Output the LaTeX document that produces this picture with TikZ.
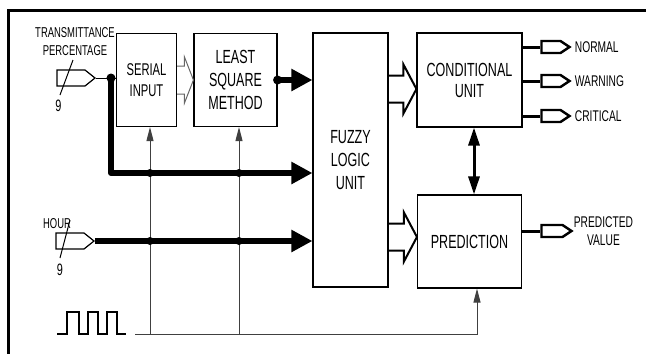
\documentclass[tikz,border=0pt]{standalone}
\usepackage{fontspec}
\newfontfamily\narrowsf{Liberation Sans}[FakeStretch=0.66]
\usetikzlibrary{arrows.meta,positioning,shapes.symbols,calc}
\newcommand{\boxfont}{\narrowsf\fontsize{19}{23}\selectfont}
\newcommand{\labelfont}{\narrowsf\fontsize{14.3}{18.5}\selectfont}
\newcommand{\outfont}{\narrowsf\fontsize{15.5}{18}\selectfont}
\tikzset{
  block/.style={draw, line width=1.1pt, inner sep=0pt, align=center, font=\boxfont},
  busin/.style={draw, signal, signal to=east, signal pointer angle=77, line width=1.2pt, minimum width=38pt, minimum height=16pt, inner sep=0pt},
  busout/.style={draw, signal, signal to=east, signal pointer angle=67, line width=2.4pt, minimum width=28pt, minimum height=12pt, inner sep=0pt},
  inlabel/.style={font=\labelfont, align=center, inner sep=0pt},
  outlabel/.style={font=\outfont, align=center, inner sep=0pt, anchor=west},
  wire/.style={line width=1pt},
  clkwire/.style={line width=1pt, black!75},
  clkarrow/.style={clkwire, -{Triangle[length=14pt,width=7pt]}},
  fatarrow/.style={line width=6pt, -{Triangle[length=21pt,width=21pt]}},
  outwire/.style={line width=3pt},
  duplex/.style={line width=3pt, {Triangle[length=18pt,width=11pt]}-{Triangle[length=18pt,width=11pt]}},
  hollow/.style={line width=2pt, line join=miter},
  hollowthin/.style={line width=1pt, black!60},
  dot/.style={circle, fill, inner sep=0pt, minimum size=9pt}
}

\begin{document}
\begin{tikzpicture}[x=1pt,y=-1pt]
  \useasboundingbox (0,0) rectangle (646,354);
  \draw[line width=3pt] (646,10) -- (8,10) -- (8,354);

  \node[block, font=\narrowsf\fontsize{17}{21}\selectfont, minimum width=60pt, minimum height=93pt] (serial) at (146.5,80) {SERIAL\\INPUT};
  \node[block, minimum width=83pt, minimum height=93pt] (lsm) at (235.5,80) {LEAST\\SQUARE\\METHOD};
  \node[block, minimum width=75pt, minimum height=254pt] (fuzzy) at (350.5,160) {FUZZY\\LOGIC\\UNIT};
  \node[block, font=\narrowsf\fontsize{19}{21}\selectfont, minimum width=105pt, minimum height=94pt] (cond) at (469.5,80) {CONDITIONAL\\UNIT};
  \node[block, minimum width=104pt, minimum height=93pt] (pred) at (469.5,241.5) {PREDICTION};

  \node[busin] (tpin) at (71,78) {};
  \node[busin] (hrin) at (70,241) {};
  \node[inlabel] (tplabel) at (75,41.5) {TRANSMITTANCE\\PERCENTAGE};
  \node[inlabel, font=\narrowsf\fontsize{16.5}{18}\selectfont] (tpwidth) at (58.5,106) {9};
  \node[inlabel] (hrlabel) at (57,224) {HOUR};
  \node[inlabel, font=\narrowsf\fontsize{16.5}{18}\selectfont] (hrwidth) at (60,270) {9};
  \draw[wire] ($(tpin)+(2,-18)$) -- ($(tpin)+(-11,17)$);
  \draw[wire] ($(hrin)+(0,-21)$) -- ($(hrin)+(-10,17)$);

  \node[busout] (outnorm) at (551,47) {};
  \node[busout] (outwarn) at (551,81) {};
  \node[busout] (outcrit) at (551,116) {};
  \node[busout, minimum width=30pt] (outpred) at (552,231) {};
  \node[outlabel] (normal) at ($(outnorm.east)+(3,0)$) {NORMAL};
  \node[outlabel] (warning) at ($(outwarn.east)+(3,0)$) {WARNING};
  \node[outlabel] (critical) at ($(outcrit.east)+(3,0)$) {CRITICAL};
  \node[outlabel] (predval) at ($(outpred.east)+(0,0)$) {PREDICTED\\VALUE};
  \draw[outwire] (outnorm.west -| cond.east) -- (outnorm.west);
  \draw[outwire] (outwarn.west -| cond.east) -- (outwarn.west);
  \draw[outwire] (outcrit.west -| cond.east) -- (outcrit.west);
  \draw[outwire] (outpred.west -| pred.east) -- (outpred.west);

  \coordinate (tsplit) at ($(tpin.east)+(15,0)$);
  \coordinate (tbus) at ($(fuzzy.west)+(0,13)$);
  \draw[wire] (tpin.east) -- (tpin.east -| serial.west);
  \draw[fatarrow, line join=round] (tsplit) |- (tbus);
  \draw[fatarrow] (hrin.east) -- (hrin.east -| fuzzy.west);
  \draw[fatarrow] (lsm.east) -- (lsm.east -| fuzzy.west);
  \node[dot] at (tsplit) {};
  \node[dot] at (lsm.east) {};

  \draw[hollowthin] ($(serial.east)+(0,-14)$) -| ($(lsm.west)+(-9,-23)$) -- (lsm.west)
    -- ($(lsm.west)+(-9,23)$) |- ($(serial.east)+(0,14)$);
  \coordinate (h1) at ($(cond.west)+(0,9)$);
  \coordinate (h2) at ($(pred.west)+(0,-4.5)$);
  \draw[hollow] ($(fuzzy.east |- h1)+(0,-13.5)$) -| ($(h1)+(-13,-24.5)$) -- (h1)
    -- ($(h1)+(-13,24.5)$) |- ($(fuzzy.east |- h1)+(0,13.5)$);
  \draw[hollow] ($(fuzzy.east |- h2)+(0,-13.5)$) -| ($(h2)+(-13,-24.5)$) -- (h2)
    -- ($(h2)+(-13,24.5)$) |- ($(fuzzy.east |- h2)+(0,13.5)$);

  \draw[duplex] ($(cond.south)+(4.5,0)$) -- ($(pred.north)+(4.5,0)$);

  % clock source and its taps
  \draw[line width=2pt] (57,334) -| (67,312) -| (79,334) -| (88,312) -| (98,334) -| (107,312) -| (117,334) -- (126,334);
  \coordinate (clk) at (135,334);
  \coordinate (tap1) at (150,334);
  \coordinate (tap2) at (239,334);
  \draw[clkarrow] (clk) -| ($(pred.south)+(7.5,0)$);
  \draw[clkarrow] (tap1) -- (tap1 |- serial.south);
  \draw[clkarrow] (tap2) -- (tap2 |- lsm.south);
  \node[dot, minimum size=8pt] at (tap1 |- tbus) {};
  \node[dot, minimum size=8pt] at (tap1 |- hrin) {};
  \node[dot, minimum size=8pt] at (tap2 |- tbus) {};
  \node[dot, minimum size=8pt] at (tap2 |- hrin) {};
\end{tikzpicture}
\end{document}
